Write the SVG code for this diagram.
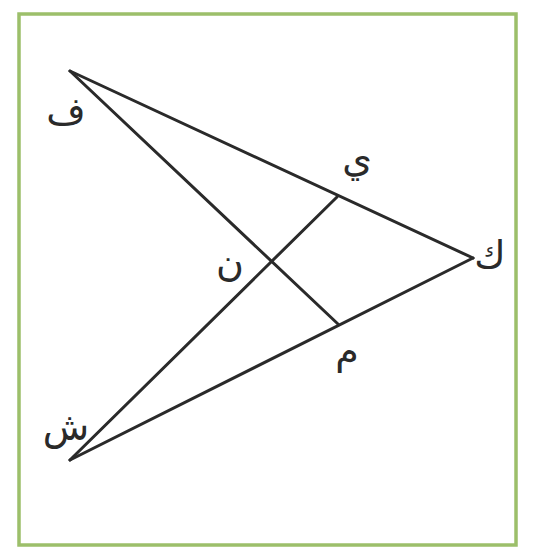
<svg xmlns="http://www.w3.org/2000/svg" width="546" height="554" viewBox="0 0 546 554">
<style>
.edge{stroke:#2a2a2a;stroke-width:3;stroke-linecap:round;fill:none}
.lbl{font-family:"DejaVu Sans",sans-serif;font-size:38px;fill:#2a2a2a;text-anchor:middle}
</style>
<rect width="546" height="554" fill="#ffffff"/>
<rect x="19" y="14" width="497" height="531" fill="none" stroke="#9cbf6a" stroke-width="3.5"/>
<g id="connectors">
<line class="edge" x1="70" y1="71" x2="473" y2="258"/>
<line class="edge" x1="70" y1="460" x2="473" y2="258"/>
<line class="edge" x1="70" y1="71" x2="338" y2="324"/>
<line class="edge" x1="70" y1="460" x2="337" y2="197"/>
</g>
<g id="F"><text class="lbl" x="66" y="124">ف</text></g>
<g id="Y"><text class="lbl" x="357" y="172">ي</text></g>
<g id="N"><text class="lbl" x="230" y="276">ن</text></g>
<g id="K"><text class="lbl" x="490" y="268">ك</text></g>
<g id="M"><text class="lbl" x="347" y="364">م</text></g>
<g id="Sh"><text class="lbl" x="66" y="440">ش</text></g>
</svg>
